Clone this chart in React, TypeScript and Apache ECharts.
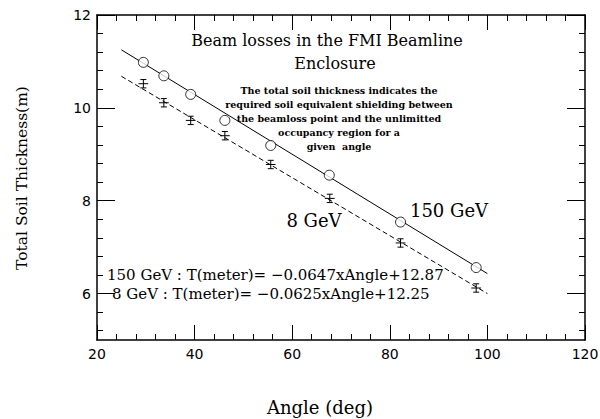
import React, { useEffect, useRef } from "react";
import * as echarts from "echarts";

// ---- data ----
const angles150 = [29.5, 33.7, 39.2, 46.2, 55.6, 67.6, 82.2, 97.7];
const thick150 = [10.98, 10.69, 10.29, 9.73, 9.19, 8.55, 7.54, 6.56];
const angles8 = [29.5, 33.7, 39.2, 46.2, 55.6, 67.7, 82.2, 97.7];
const thick8 = [10.52, 10.11, 9.73, 9.4, 8.78, 8.05, 7.09, 6.12];
const angleErr8 = [1.0, 1.0, 1.0, 1.0, 1.0, 1.0, 1.0, 1.0];
const thickErr8 = [0.09, 0.09, 0.09, 0.09, 0.09, 0.09, 0.09, 0.09];
const fitX = [25, 100];
const fit150 = [11.25, 6.43];
const fit8 = [10.68, 6.0];
const yMajorTicks = [6, 8, 10, 12];
const yMinorTicks = [5.2, 5.6, 6.4, 6.8, 7.2, 7.6, 8.4, 8.8, 9.2, 9.6, 10.4, 10.8, 11.2, 11.6];

const titleLines = ["Beam losses in the FMI Beamline", "Enclosure"];
const noteLines = [
  "The total soil thickness indicates the",
  "required soil equivalent shielding between",
  "the beamloss point and the unlimitted",
  "occupancy region for a",
  "given  angle",
];
const eqLines = [
  "150 GeV : T(meter)= \u22120.0647xAngle+12.87",
  "8 GeV : T(meter)= \u22120.0625xAngle+12.25",
];

const BLACK = "#000";
const SERIF = "'DejaVu Serif', serif";

export default function App() {
  const ref = useRef<HTMLDivElement>(null);
  useEffect(() => {
    if (!ref.current) return;
    const chart = echarts.init(ref.current, undefined, { renderer: "svg" });
    const axisLine = { show: true, lineStyle: { color: BLACK, width: 1.5 } };
    const xBase = (pos: string, labels: boolean) => ({
      type: "value",
      position: pos,
      min: 20,
      max: 120,
      interval: 20,
      axisLine,
      axisTick: { show: true, inside: true, length: 15, lineStyle: { color: BLACK, width: 1 } },
      minorTick: { show: true, splitNumber: 5, length: 6, lineStyle: { color: BLACK, width: 1 } },
      splitLine: { show: false },
      axisLabel: labels
        ? { show: true, margin: 7, color: BLACK, fontSize: 14, fontFamily: "'DejaVu Sans', sans-serif" }
        : { show: false },
    });
    const yBase = (pos: string, major: boolean, labels: boolean) => ({
      type: "value",
      position: pos,
      min: 5,
      max: 12,
      axisLine: major ? axisLine : { show: false },
      axisTick: {
        show: true,
        inside: true,
        length: major ? 18 : 6,
        customValues: major ? yMajorTicks : yMinorTicks,
        lineStyle: { color: BLACK, width: 1 },
      },
      splitLine: { show: false },
      axisLabel: labels
        ? {
            show: true,
            margin: 6,
            color: BLACK,
            fontSize: 14,
            fontFamily: "'DejaVu Sans', sans-serif",
            customValues: yMajorTicks,
          }
        : { show: false },
    });

    const errData = angles8.map((a, i) => [a, thick8[i], angleErr8[i], thickErr8[i]]);
    const txt = (text: string, x: number, y: number, size: number, extra: any = {}) => ({
      type: "text",
      x,
      y,
      style: {
        text,
        fill: BLACK,
        font: `${extra.weight || "normal"} ${size}px ${extra.family || SERIF}`,
        textAlign: extra.align || "center",
        textVerticalAlign: "middle",
      },
      rotation: extra.rotation || 0,
    });

    chart.setOption({
      animation: false,
      backgroundColor: "#fff",
      grid: { left: 97, right: 15, top: 15, bottom: 79, outerBoundsMode: "none", containLabel: false },
      xAxis: [xBase("bottom", true), xBase("top", false)],
      yAxis: [
        yBase("left", true, true),
        yBase("left", false, false),
        yBase("right", true, false),
        yBase("right", false, false),
      ],
      series: [
        {
          type: "line",
          data: fitX.map((x, i) => [x, fit150[i]]),
          symbol: "none",
          lineStyle: { color: BLACK, width: 1 },
        },
        {
          type: "line",
          data: fitX.map((x, i) => [x, fit8[i]]),
          symbol: "none",
          lineStyle: { color: BLACK, width: 1, type: [5, 3] },
        },
        {
          type: "scatter",
          data: angles150.map((a, i) => [a, thick150[i]]),
          symbol: "circle",
          symbolSize: 10,
          itemStyle: { color: "#fff", borderColor: BLACK, borderWidth: 1 },
          z: 5,
        },
        {
          type: "custom",
          data: errData,
          z: 5,
          renderItem: (_p: any, api: any) => {
            const x = api.value(0);
            const y = api.value(1);
            const xe = api.value(2);
            const ye = api.value(3);
            const c = api.coord([x, y]);
            const l = api.coord([x - xe, y]);
            const r = api.coord([x + xe, y]);
            const t = api.coord([x, y + ye]);
            const b = api.coord([x, y - ye]);
            const cap = 3;
            const style = { stroke: BLACK, lineWidth: 1 };
            return {
              type: "group",
              children: [
                { type: "line", shape: { x1: l[0], y1: c[1], x2: r[0], y2: c[1] }, style },
                { type: "line", shape: { x1: c[0], y1: t[1], x2: c[0], y2: b[1] }, style },
                { type: "line", shape: { x1: c[0] - cap, y1: t[1], x2: c[0] + cap, y2: t[1] }, style },
                { type: "line", shape: { x1: c[0] - cap, y1: b[1], x2: c[0] + cap, y2: b[1] }, style },
              ],
            };
          },
        },
      ],
      graphic: [
        txt(titleLines[0], 327, 40, 16),
        txt(titleLines[1], 335, 63, 16),
        ...noteLines.map((s, i) => txt(s, 339, 90 + i * 14, 9.5, { weight: "bold" })),
        txt("150 GeV", 449, 210, 18),
        txt("8 GeV", 314, 220, 18),
        txt(eqLines[0], 107, 275, 15, { align: "left" }),
        txt(eqLines[1], 112, 294, 15, { align: "left" }),
        txt("Angle (deg)", 320, 407, 18),
        txt("Total Soil Thickness(m)", 22, 178, 15.5, { rotation: Math.PI / 2 }),
      ],
    });
    return () => chart.dispose();
  }, []);
  return (
    <div
      ref={ref}
      style={{ position: "fixed", left: 0, top: 0, width: 600, height: 419, background: "#fff" }}
    />
  );
}
